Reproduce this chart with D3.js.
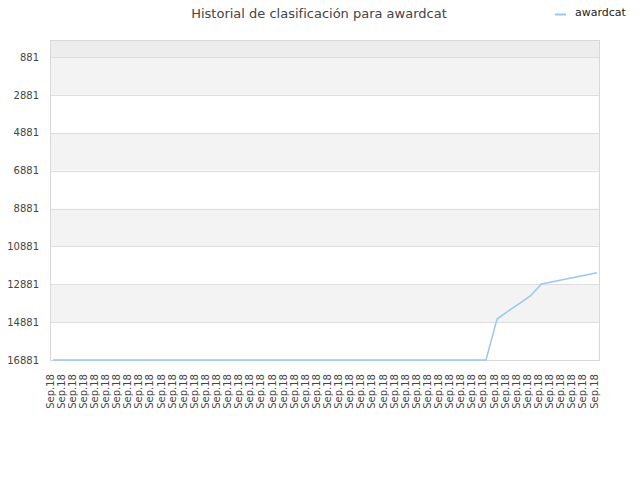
<!DOCTYPE html>
<html lang="es">
<head>
<meta charset="utf-8" />
<title>Historial de clasificación</title>
<script src="https://d3js.org/d3.v7.min.js"></script>
<style>
  body { margin: 0; background: #fff; }
  text { font-family: "DejaVu Sans", sans-serif; }
</style>
</head>
<body>
<div id="chart"></div>
<script>
// chart data
var seriesName = "awardcat";
var chartTitle = "Historial de clasificación para awardcat";

var dates = [
  "Sep.18","Sep.18","Sep.18","Sep.18","Sep.18","Sep.18","Sep.18","Sep.18","Sep.18","Sep.18",
  "Sep.18","Sep.18","Sep.18","Sep.18","Sep.18","Sep.18","Sep.18","Sep.18","Sep.18","Sep.18",
  "Sep.18","Sep.18","Sep.18","Sep.18","Sep.18","Sep.18","Sep.18","Sep.18","Sep.18","Sep.18",
  "Sep.18","Sep.18","Sep.18","Sep.18","Sep.18","Sep.18","Sep.18","Sep.18","Sep.18","Sep.18",
  "Sep.18","Sep.18","Sep.18","Sep.18","Sep.18","Sep.18","Sep.18","Sep.18","Sep.18","Sep.18"
];

var ranks = [
  16881,16881,16881,16881,16881,16881,16881,16881,16881,16881,
  16881,16881,16881,16881,16881,16881,16881,16881,16881,16881,
  16881,16881,16881,16881,16881,16881,16881,16881,16881,16881,
  16881,16881,16881,16881,16881,16881,16881,16881,16881,16881,
  14720,14300,13900,13500,12870,12750,12630,12510,12390,12270
];

var yTicks = [881, 2881, 4881, 6881, 8881, 10881, 12881, 14881, 16881];
var yTop = -17;   // value at the top edge of the plot

// layout (plot box)
var width = 640, height = 480;
var plotL = 51, plotR = 600, plotT = 40, plotB = 360;

var svg = d3.select("#chart").append("svg")
    .attr("width", width)
    .attr("height", height);

var x = d3.scalePoint()
    .domain(d3.range(ranks.length))
    .range([53, 597]);

// rank axis is reversed: best rank on top
var y = d3.scaleLinear()
    .domain([yTop, d3.max(yTicks)])
    .range([plotT, plotB]);

// background bands between gridlines
var edges = [yTop].concat(yTicks);
svg.append("g").selectAll("rect")
    .data(d3.pairs(edges))
    .enter().append("rect")
      .attr("x", plotL)
      .attr("width", plotR - plotL)
      .attr("y", function(d){ return y(d[0]); })
      .attr("height", function(d){ return y(d[1]) - y(d[0]); })
      .attr("fill", function(d, i){
        if (i == 0) return "#ededed";
        return (i % 2 == 1) ? "#f3f3f3" : "#ffffff";
      });

// gridlines
svg.append("g").selectAll("line")
    .data(yTicks)
    .enter().append("line")
      .attr("x1", plotL).attr("x2", plotR)
      .attr("y1", function(d){ return Math.round(y(d)) + 0.5; })
      .attr("y2", function(d){ return Math.round(y(d)) + 0.5; })
      .attr("stroke", "#dedede");

// plot frame
svg.append("rect")
    .attr("x", plotL - 0.5).attr("y", plotT + 0.5)
    .attr("width", plotR - plotL).attr("height", plotB - plotT)
    .attr("fill", "none")
    .attr("stroke", "#d8d8d8");

// y axis labels
var yAxis = d3.axisLeft(y).tickValues(yTicks).tickSize(0).tickPadding(0)
    .tickFormat(d3.format("d"));
var gy = svg.append("g")
    .attr("transform", "translate(39,0)")
    .call(yAxis);
gy.select(".domain").remove();
gy.selectAll("text")
    .attr("font-size", "10px")
    .attr("font-family", "DejaVu Sans, sans-serif")
    .attr("fill", "#444");

// x axis labels, turned upright
var xAxis = d3.axisBottom(x)
    .tickSize(0)
    .tickFormat(function(i){ return dates[i]; });
var gx = svg.append("g")
    .attr("transform", "translate(0," + plotB + ")")
    .call(xAxis);
gx.select(".domain").remove();
gx.selectAll("text")
    .attr("transform", "rotate(-90)")
    .attr("text-anchor", "end")
    .attr("x", -14)
    .attr("y", 0)
    .attr("dy", 0)
    .attr("font-size", "10px")
    .attr("font-family", "DejaVu Sans, sans-serif")
    .attr("fill", "#444");

// the line
var line = d3.line()
    .x(function(d, i){ return x(i); })
    .y(function(d){ return y(d); });

svg.append("path")
    .datum(ranks)
    .attr("d", line)
    .attr("fill", "none")
    .attr("stroke", "#9ac7f2")
    .attr("stroke-width", 1.5);

// title
svg.append("text")
    .attr("x", 319)
    .attr("y", 18)
    .attr("text-anchor", "middle")
    .attr("font-size", "13px")
    .attr("fill", "#444")
    .text(chartTitle);

// legend
svg.append("line")
    .attr("x1", 555).attr("x2", 566)
    .attr("y1", 14.5).attr("y2", 14.5)
    .attr("stroke", "#9ac7f2")
    .attr("stroke-width", 2);
svg.append("text")
    .attr("x", 575)
    .attr("y", 16)
    .attr("font-size", "11px")
    .attr("fill", "#222")
    .text(seriesName);
</script>
</body>
</html>
